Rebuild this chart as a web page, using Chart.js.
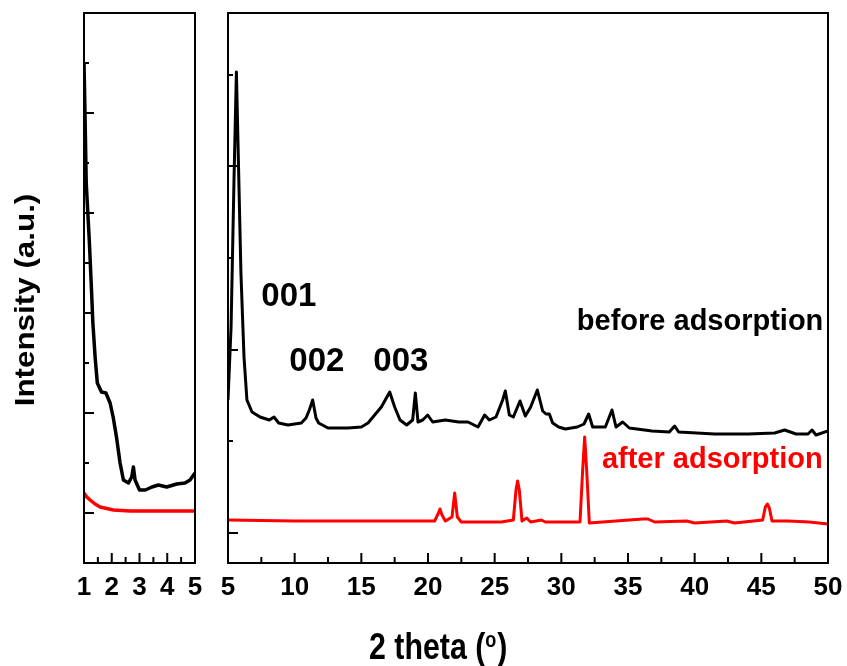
<!DOCTYPE html>
<html lang="en">
<head>
<meta charset="UTF-8" />
<title>XRD before / after adsorption</title>
<script src="https://cdn.jsdelivr.net/npm/chart.js"></script>
<style>
  html, body { margin: 0; padding: 0; background: #fff; }
  #wrap { position: relative; width: 847px; height: 666px; }
  #wrap canvas { position: absolute; left: 0; top: 0; }
</style>
</head>
<body>
<div id="wrap">
  <canvas id="lowAngleChart" width="847" height="666"></canvas>
  <canvas id="wideAngleChart" width="847" height="666"></canvas>
</div>
<script>
// low angle panel (2 theta 1-5)
const lowAngle = [1.00, 1.04, 1.08, 1.19, 1.27, 1.32, 1.40, 1.48, 1.63, 1.79, 1.94, 2.05, 2.17, 2.30, 2.42, 2.60, 2.72, 2.78, 2.84, 3.00, 3.21, 3.45, 3.68, 3.98, 4.34, 4.64, 4.82, 5.00];
const lowBefore = [501, 443, 380, 323, 273, 240, 206, 180, 171, 170, 160, 146, 126, 100, 83, 80, 86, 96, 83, 73, 73, 76, 78, 76, 79, 80, 83, 90];
const lowAfterAngle = [1.00, 1.10, 1.22, 1.40, 1.58, 2.06, 2.66, 5.00];
const lowAfter = [70, 66, 63, 59, 56, 53, 52, 52];

// wide angle panel (2 theta 5-50)
const wideBeforeAngle = [5.0, 5.23, 5.45, 5.63, 5.8, 5.97, 6.2, 6.42, 6.8, 7.4, 8.1, 8.45, 8.8, 9.5, 10.5, 10.85, 11.1, 11.35, 11.6, 11.8, 12.5, 14.0, 15.0, 15.5, 16.5, 17.13, 17.5, 17.9, 18.4, 18.85, 19.05, 19.25, 19.6, 19.98, 20.35, 21.3, 22.3, 23.0, 23.75, 24.25, 24.6, 25.1, 25.6, 25.8, 26.1, 26.4, 26.9, 27.3, 27.7, 28.2, 28.6, 28.85, 29.1, 29.35, 29.8, 30.3, 31.2, 31.7, 32.05, 32.35, 33.3, 33.8, 34.1, 34.6, 35.1, 36.8, 38.1, 38.5, 38.8, 41.5, 44.0, 46.0, 46.75, 47.6, 48.5, 48.8, 49.1, 50.0];
const wideBefore = [163, 236, 383, 491, 390, 290, 206, 163, 151, 146, 143, 146, 140, 138, 140, 145, 153, 163, 145, 140, 135, 135, 136, 140, 156, 171, 156, 143, 138, 143, 170, 141, 143, 148, 141, 143, 141, 141, 136, 148, 143, 146, 163, 172, 148, 146, 162, 147, 156, 173, 152, 149, 149, 140, 136, 134, 136, 139, 149, 136, 136, 153, 136, 141, 135, 132, 131, 137, 131, 129, 129, 130, 133, 129, 129, 133, 128, 132];
const wideAfterAngle = [5.0, 10, 15, 20.5, 20.75, 20.9, 21.05, 21.3, 21.8, 22.0, 22.2, 22.5, 25.5, 26.4, 26.6, 26.72, 26.85, 27.05, 27.4, 27.7, 28.5, 28.8, 31.4, 31.6, 31.75, 31.9, 32.1, 36.1, 36.5, 37.0, 39.4, 40.0, 42.4, 43.0, 45.1, 45.3, 45.45, 45.6, 45.8, 47.0, 48.6, 50.0];
const wideAfter = [43, 42, 42, 42, 49, 54, 48, 42, 46, 70, 46, 41, 41, 43, 73, 82, 73, 42, 45, 41, 43, 41, 41, 93, 126, 93, 40, 44, 44, 41, 42, 40, 42, 40, 43, 56, 59, 55, 42, 42, 41, 39];

// axis ticks
const lowTicks = [1, 1.5, 2, 2.5, 3, 3.5, 4, 4.5, 5];
const wideTicks = [5, 7.5, 10, 12.5, 15, 17.5, 20, 22.5, 25, 27.5, 30, 32.5, 35, 37.5, 40, 42.5, 45, 47.5, 50];
const lowYMajor = [50, 150, 250, 350, 450];
const lowYMinor = [100, 200, 300, 400, 500];
const wideYMajor = [30, 213, 397];
const wideYMinor = [122, 305, 488];

const FONT = "'Liberation Sans', Arial, sans-serif";
Chart.defaults.font.family = FONT;
Chart.defaults.color = "#000";

const toPoints = (xs, ys) => xs.map((x, i) => ({ x: x, y: ys[i] }));

// box around the chart area plus inward tick marks
const panelFrame = {
  id: "panelFrame",
  afterDraw(chart, args, opts) {
    const { ctx, chartArea: a, scales } = chart;
    const x = scales.x, y = scales.y;
    ctx.save();
    ctx.strokeStyle = "#000";
    ctx.lineWidth = 2;
    ctx.strokeRect(a.left, a.top, a.right - a.left, a.bottom - a.top);
    ctx.beginPath();
    x.ticks.forEach((t) => {
      const px = x.getPixelForValue(t.value);
      const len = opts.isMajorX(t.value) ? 10 : 6;
      ctx.moveTo(px, a.bottom);
      ctx.lineTo(px, a.bottom - len);
    });
    opts.yMajor.forEach((v) => {
      const py = y.getPixelForValue(v);
      ctx.moveTo(a.left, py);
      ctx.lineTo(a.left + 10, py);
    });
    opts.yMinor.forEach((v) => {
      const py = y.getPixelForValue(v);
      ctx.moveTo(a.left, py);
      ctx.lineTo(a.left + 5, py);
    });
    ctx.stroke();
    ctx.restore();
  },
};

// axis titles and peak / curve labels
const textLayer = {
  id: "textLayer",
  afterDraw(chart) {
    const { ctx, scales } = chart;
    const x = scales.x, y = scales.y;
    ctx.save();
    ctx.fillStyle = "#000";
    ctx.textBaseline = "alphabetic";

    ctx.font = "bold 33px " + FONT;
    ctx.textAlign = "left";
    ctx.fillText("001", x.getPixelForValue(7.5), y.getPixelForValue(257));
    ctx.fillText("002", x.getPixelForValue(9.6), y.getPixelForValue(192));
    ctx.fillText("003", x.getPixelForValue(15.9), y.getPixelForValue(192));

    ctx.font = "bold 29px " + FONT;
    ctx.textAlign = "right";
    ctx.fillText("before adsorption", x.getPixelForValue(49.65), y.getPixelForValue(233));
    ctx.fillStyle = "#ff0000";
    ctx.fillText("after adsorption", x.getPixelForValue(49.6), y.getPixelForValue(95));

    // x title with superscript o
    ctx.fillStyle = "#000";
    ctx.textAlign = "left";
    ctx.save();
    ctx.translate(369, 659);
    ctx.scale(0.82, 1);
    ctx.font = "bold 37px " + FONT;
    ctx.fillText("2 theta (", 0, 0);
    let w = ctx.measureText("2 theta (").width;
    ctx.font = "bold 22px " + FONT;
    ctx.fillText("o", w, -12);
    w += ctx.measureText("o").width + 1;
    ctx.font = "bold 37px " + FONT;
    ctx.fillText(")", w, 0);
    ctx.restore();

    // y title
    ctx.save();
    ctx.translate(26.5, 300);
    ctx.rotate(-Math.PI / 2);
    ctx.scale(1.12, 1);
    ctx.font = "bold 28px " + FONT;
    ctx.textAlign = "center";
    ctx.textBaseline = "middle";
    ctx.fillText("Intensity (a.u.)", 0, 0);
    ctx.restore();

    ctx.restore();
  },
};

function makePanel(canvasId, cfg) {
  return new Chart(document.getElementById(canvasId), {
    type: "line",
    data: {
      datasets: [
        {
          label: "before adsorption",
          data: cfg.before,
          borderColor: "#000",
          borderWidth: cfg.blackWidth,
          pointRadius: 0,
          tension: 0,
          borderJoinStyle: "round",
        },
        {
          label: "after adsorption",
          data: cfg.after,
          borderColor: "#ff0000",
          borderWidth: cfg.redWidth,
          pointRadius: 0,
          tension: 0,
          borderJoinStyle: "round",
        },
      ],
    },
    options: {
      responsive: false,
      animation: false,
      events: [],
      layout: { padding: cfg.padding },
      plugins: {
        legend: { display: false },
        tooltip: { enabled: false },
        panelFrame: { isMajorX: cfg.isMajorX, yMajor: cfg.yMajor, yMinor: cfg.yMinor },
      },
      scales: {
        x: {
          type: "linear",
          min: cfg.xMin,
          max: cfg.xMax,
          grid: { display: false, drawTicks: false },
          border: { display: false },
          afterBuildTicks: (scale) => {
            scale.ticks = cfg.xTicks.map((v) => ({ value: v }));
          },
          afterFit: (scale) => {
            scale.height = 103;
            // labels may hang over the panel edges, keep the box where it is
            scale.paddingLeft = 0;
            scale.paddingRight = 0;
          },
          ticks: {
            autoSkip: false,
            maxRotation: 0,
            padding: 9,
            color: "#000",
            font: { size: 26, weight: "bold" },
            callback: (value) => (cfg.isMajorX(value) ? String(value) : ""),
          },
        },
        y: {
          display: false,
          min: 0,
          max: 550,
        },
      },
    },
    plugins: cfg.plugins,
  });
}

makePanel("lowAngleChart", {
  before: toPoints(lowAngle, lowBefore),
  after: toPoints(lowAfterAngle, lowAfter),
  xMin: 1,
  xMax: 5,
  xTicks: lowTicks,
  isMajorX: (v) => Number.isInteger(v),
  yMajor: lowYMajor,
  yMinor: lowYMinor,
  blackWidth: 3.5,
  redWidth: 3.5,
  padding: { left: 84, right: 652, top: 13, bottom: 0 },
  plugins: [panelFrame],
});

makePanel("wideAngleChart", {
  before: toPoints(wideBeforeAngle, wideBefore),
  after: toPoints(wideAfterAngle, wideAfter),
  xMin: 5,
  xMax: 50,
  xTicks: wideTicks,
  isMajorX: (v) => v % 5 === 0,
  yMajor: wideYMajor,
  yMinor: wideYMinor,
  blackWidth: 3,
  redWidth: 3,
  padding: { left: 228, right: 19, top: 13, bottom: 0 },
  plugins: [panelFrame, textLayer],
});
</script>
</body>
</html>
